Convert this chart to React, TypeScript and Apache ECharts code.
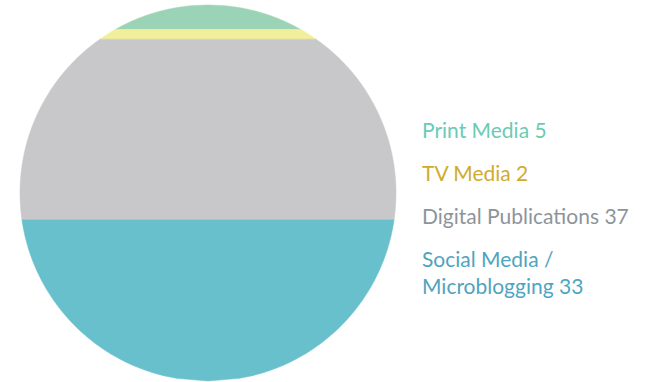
import React, { useEffect, useRef } from "react";
import * as echarts from "echarts";

const categories = ["Print Media", "TV Media", "Digital Publications", "Social Media / Microblogging"];
const legendLabels = ["Print Media", "TV Media", "Digital Publications", "Social Media /\nMicroblogging"];
const values = [5, 2, 37, 33];
const fillColors = ["#9bd3b7", "#f2ef9b", "#c8c8ca", "#68c0cc"];
const textColors = ["#6ccab5", "#d0ac2e", "#8d949a", "#4fa4bf"];

export default function App() {
  const ref = useRef<HTMLDivElement>(null);
  useEffect(() => {
    if (!ref.current) return;
    const chart = echarts.init(ref.current, undefined, { renderer: "svg" });
    const total = values.reduce((a, b) => a + b, 0);
    let acc = 0;
    const bandData = values.map((v, i) => {
      const start = acc;
      acc += v;
      return [start, acc, i];
    });

    const texts: any[] = [];
    let y = 129;
    legendLabels.forEach((lab, i) => {
      const lines = lab.split("\n").length;
      texts.push({
        type: "text",
        left: 422,
        top: y - 13.5,
        style: {
          text: lab + " " + values[i],
          fill: textColors[i],
          font: "21px Lato, 'Open Sans', sans-serif",
          lineHeight: 27,
        },
      });
      y += 43 + (lines - 1) * 27;
    });

    chart.setOption({
      animation: false,
      grid: { left: 20, top: 5, width: 376, height: 376 },
      xAxis: { type: "value", min: -1, max: 1, show: false },
      yAxis: { type: "value", min: 0, max: total, inverse: true, show: false },
      series: [
        {
          type: "custom",
          name: categories.join(", "),
          data: bandData,
          encode: { y: [0, 1] },
          renderItem: (params: any, api: any) => {
            const cs = params.coordSys;
            const cx = cs.x + cs.width / 2;
            const cy = cs.y + cs.height / 2;
            const R = cs.width / 2;
            const y1 = api.coord([0, api.value(0)])[1];
            const y2 = api.coord([0, api.value(1)])[1];
            const idx = api.value(2);
            const pts: number[][] = [];
            const n = 60;
            const hw = (yy: number) => Math.sqrt(Math.max(0, R * R - (yy - cy) * (yy - cy)));
            for (let k = 0; k <= n; k++) {
              const yy = y1 + ((y2 - y1) * k) / n;
              pts.push([cx + hw(yy), yy]);
            }
            for (let k = n; k >= 0; k--) {
              const yy = y1 + ((y2 - y1) * k) / n;
              pts.push([cx - hw(yy), yy]);
            }
            return {
              type: "polygon",
              shape: { points: pts },
              style: { fill: fillColors[idx], stroke: fillColors[idx], lineWidth: 0.5 },
            };
          },
        },
      ],
      graphic: texts,
    });
    return () => chart.dispose();
  }, []);
  return (
    <div
      ref={ref}
      style={{ position: "fixed", left: 0, top: 0, width: 658, height: 382, background: "#fff" }}
    />
  );
}
